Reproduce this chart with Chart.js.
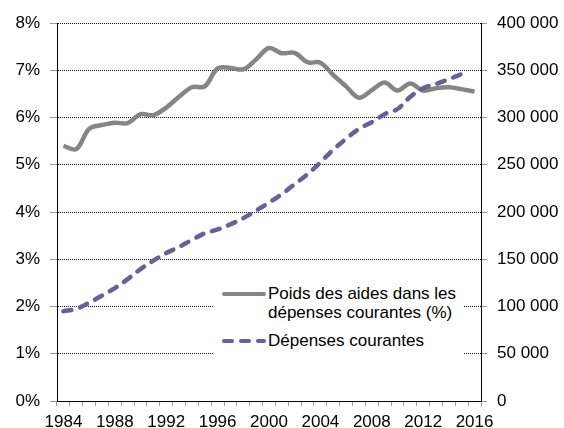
<!DOCTYPE html>
<html>
<head>
<meta charset="utf-8">
<script src="https://cdn.jsdelivr.net/npm/chart.js@4/dist/chart.umd.min.js"></script>
<style>
  html, body { margin: 0; padding: 0; background: #fff; }
  #wrap { position: relative; width: 564px; height: 428px; }
  #legend {
    position: absolute; left: 213px; top: 272px; width: 250px; height: 98px;
    background: #fff; font-family: "Liberation Sans", Arial, sans-serif;
    font-size: 17px; line-height: 19px; color: #000;
  }
  .item { position: absolute; left: 9px; }
  .item svg { position: absolute; left: 0; }
  .item span { position: absolute; left: 46px; white-space: nowrap; }
</style>
</head>
<body>
<div id="wrap">
  <canvas id="chart" width="564" height="428"></canvas>
  <div id="legend">
    <div class="item" style="top:12px">
      <svg width="45" height="19" style="top:0"><line x1="2" y1="10" x2="42" y2="10" stroke="#858585" stroke-width="4" stroke-linecap="round"/></svg>
      <span>Poids des aides dans les<br>dépenses courantes (%)</span>
    </div>
    <div class="item" style="top:59px">
      <svg width="45" height="19" style="top:0"><line x1="2" y1="10" x2="42" y2="10" stroke="#63639a" stroke-width="4" stroke-linecap="round" stroke-dasharray="8 9"/></svg>
      <span>Dépenses courantes</span>
    </div>
  </div>
</div>
<script>
const years = [];
for (let y = 1984; y <= 2016; y++) years.push(String(y));

// poids des aides dans les dépenses courantes (%)
const poids = [5.40, 5.33, 5.76, 5.84, 5.89, 5.88, 6.07, 6.05, 6.21, 6.44,
  6.64, 6.66, 7.04, 7.05, 7.02, 7.23, 7.47, 7.36, 7.37, 7.17,
  7.16, 6.90, 6.66, 6.42, 6.58, 6.74, 6.57, 6.72, 6.57, 6.62,
  6.64, 6.60, 6.55];

// dépenses courantes (axe droit)
const depenses = [95000, 97500, 104000, 111500, 119500, 129000, 139500, 148500, 156500, 163000,
  170500, 177500, 181500, 187000, 193500, 201500, 210000, 219000, 229500, 240000,
  252500, 266000, 277500, 288000, 295000, 303500, 309000, 322000, 331000, 335500,
  340500, 346000, null];

const leftTicks = ['0%', '1%', '2%', '3%', '4%', '5%', '6%', '7%', '8%'];

const font = { family: '"Liberation Sans", Arial, sans-serif', size: 17 };

function fixWidth(w) {
  return scale => { scale.width = w; };
}

new Chart(document.getElementById('chart'), {
  type: 'line',
  data: {
    labels: years,
    datasets: [
      {
        label: 'Poids des aides dans les dépenses courantes (%)',
        data: poids,
        yAxisID: 'y',
        borderColor: '#858585',
        borderWidth: 4.5,
        pointRadius: 0,
        tension: 0.35,
        order: 1
      },
      {
        label: 'Dépenses courantes',
        data: depenses,
        yAxisID: 'y1',
        borderColor: '#63639a',
        borderWidth: 4.5,
        borderDash: [8, 9],
        borderCapStyle: 'round',
        pointRadius: 0,
        tension: 0.35,
        order: 0
      }
    ]
  },
  options: {
    responsive: false,
    animation: false,
    layout: { padding: { top: 23, left: 0, right: 0, bottom: 0 } },
    plugins: { legend: { display: false }, tooltip: { enabled: false } },
    scales: {
      x: {
        offset: true,
        grid: { offset: true, drawOnChartArea: false, tickLength: 5, tickColor: '#999' },
        border: { color: '#000', width: 1 },
        ticks: {
          autoSkip: false, maxRotation: 0, padding: 6, color: '#000', font,
          callback: (v, i) => (i % 4 === 0 ? years[i] : '')
        },
        afterFit: scale => { scale.height = 27; }
      },
      y: {
        position: 'left',
        min: 0, max: 8,
        grid: { color: '#111', tickLength: 7, tickColor: '#999', tickBorderDash: [] },
        border: { color: '#000', width: 1, dash: [1, 1] },
        ticks: { stepSize: 1, padding: 10, color: '#000', font, callback: v => leftTicks[v] },
        afterFit: fixWidth(57)
      },
      y1: {
        position: 'right',
        min: 0, max: 400000,
        grid: { drawOnChartArea: false, tickLength: 6, tickColor: '#999' },
        border: { color: '#000', width: 1 },
        ticks: {
          stepSize: 50000, padding: 10, color: '#000', font,
          callback: v => String(v).replace(/\B(?=(\d{3})+(?!\d))/g, ' ')
        },
        afterFit: fixWidth(83)
      }
    }
  }
});
</script>
</body>
</html>
